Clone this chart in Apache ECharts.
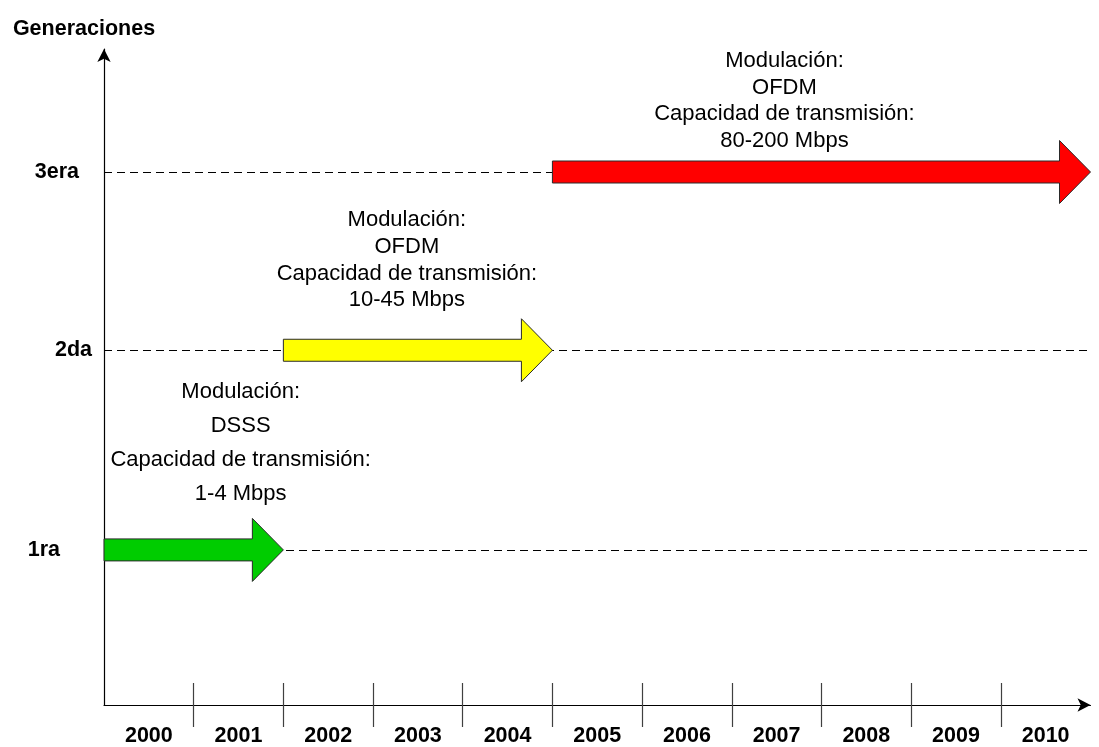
<!DOCTYPE html>
<html>
<head>
<meta charset="utf-8">
<title>Generaciones</title>
<script src="https://cdn.jsdelivr.net/npm/echarts@6/dist/echarts.min.js"></script>
<style>
  html, body { margin: 0; padding: 0; background: #fff; }
  #chart { width: 1099px; height: 747px; }
</style>
</head>
<body>
<div id="chart"></div>
<script>
// eje X: años
const years = ['2000', '2001', '2002', '2003', '2004', '2005', '2006', '2007', '2008', '2009', '2010'];
// eje Y: generaciones y su altura
const generations = ['1ra', '2da', '3era'];
const genLevels = [0.87, 1.99, 2.99];
// periodo de cada generacion
const startYears = ['2000', '2002', '2005'];
const endYears = ['2001', '2004', '2010'];
// textos de cada flecha
const modulations = ['DSSS', 'OFDM', 'OFDM'];
const capacities = ['1-4 Mbps', '10-45 Mbps', '80-200 Mbps'];

// estilos / posiciones (px)
const arrowColors = ['#00cc00', '#ffff00', '#ff0000'];
const noteShiftX = [47, -11, -37];
const noteShiftY = [-158, -130, -111];
const noteLineH = [34, 26.7, 26.5];
const labelGaps = [44, 12, 25];
const labelPads = [[14, 0, 0, 0], [0, 0, 0, 0], [0, 0, 0, 0]];
const FONT = '"Liberation Sans", Arial, sans-serif';

const arrowData = generations.map((g, i) => [
  years.indexOf(startYears[i]),
  years.indexOf(endYears[i]) + 1,
  genLevels[i],
  i
]);

const chart = echarts.init(document.getElementById('chart'));

function renderArrow(params, api) {
  const i = api.value(3);
  const p0 = api.coord([api.value(0), api.value(2)]);
  const p1 = api.coord([api.value(1), api.value(2)]);
  const x0 = p0[0], x1 = p1[0], y = p0[1];
  const sh = 11, hh = 31.5, hl = 31; // medio cuerpo, media cabeza, largo cabeza
  const pts = [
    [x0, y - sh], [x1 - hl, y - sh], [x1 - hl, y - hh], [x1, y],
    [x1 - hl, y + hh], [x1 - hl, y + sh], [x0, y + sh]
  ];
  const note = 'Modulación:\n' + modulations[i] + '\nCapacidad de transmisión:\n' + capacities[i];
  return {
    type: 'group',
    children: [
      {
        type: 'polygon',
        shape: { points: pts },
        style: { fill: arrowColors[i], stroke: '#2a2a2a', lineWidth: 1 }
      },
      {
        type: 'text',
        x: (x0 + x1) / 2 + noteShiftX[i],
        y: y + noteShiftY[i] - noteLineH[i] / 2,
        style: {
          text: note,
          align: 'center',
          verticalAlign: 'top',
          fontSize: 22,
          fontFamily: FONT,
          lineHeight: noteLineH[i],
          fill: '#000'
        }
      }
    ]
  };
}

const tickValues = years.slice(1).map((y, i) => i + 1);
const tickAxis = (inside) => ({
  type: 'value',
  min: 0,
  max: years.length,
  position: 'bottom',
  axisLine: { show: false },
  axisLabel: { show: false },
  splitLine: { show: false },
  axisTick: {
    show: true,
    inside: inside,
    length: 22,
    customValues: tickValues,
    lineStyle: { color: '#404040', width: 1.2 }
  }
});

chart.setOption({
  animation: false,
  backgroundColor: '#fff',
  grid: { left: 104, right: 8.5, top: 49, bottom: 36, containLabel: false },
  xAxis: [
    {
      type: 'category',
      data: years,
      boundaryGap: true,
      position: 'bottom',
      axisLine: {
        show: true,
        symbol: ['none', 'arrow'],
        symbolSize: [10, 13],
        lineStyle: { color: '#000', width: 1.2 }
      },
      axisTick: { show: false },
      axisLabel: {
        color: '#000',
        fontWeight: 'bold',
        fontSize: 21.5,
        fontFamily: FONT,
        margin: 20
      }
    },
    tickAxis(false),
    tickAxis(true)
  ],
  yAxis: {
    type: 'value',
    min: 0,
    max: 3.68,
    name: 'Generaciones',
    nameLocation: 'end',
    nameGap: 9,
    nameTextStyle: {
      color: '#000',
      fontWeight: 'bold',
      fontSize: 21.5,
      fontFamily: FONT,
      align: 'center',
      padding: [0, 40, 0, 0]
    },
    axisLine: {
      show: true,
      symbol: ['none', 'arrow'],
      symbolSize: [10, 13],
      lineStyle: { color: '#000', width: 1.2 }
    },
    axisTick: { show: false },
    axisLabel: { show: false },
    splitLine: { show: false }
  },
  series: [
    {
      // lineas punteadas y nombres de generacion
      type: 'line',
      xAxisIndex: 1,
      data: [],
      silent: true,
      z: 1,
      markLine: {
        silent: true,
        symbol: ['none', 'none'],
        lineStyle: { type: [8, 5], color: '#000', width: 1 },
        label: {
          position: 'start',
          formatter: '{b}',
          color: '#000',
          fontWeight: 'bold',
          fontSize: 21.5,
          fontFamily: FONT
        },
        data: generations.map((g, i) => [
          {
            name: g,
            coord: [0, genLevels[i]],
            label: { distance: labelGaps[i], padding: labelPads[i] }
          },
          { coord: [years.length, genLevels[i]] }
        ])
      }
    },
    {
      type: 'custom',
      xAxisIndex: 1,
      z: 5,
      clip: false,
      renderItem: renderArrow,
      data: arrowData
    }
  ]
});
</script>
</body>
</html>
